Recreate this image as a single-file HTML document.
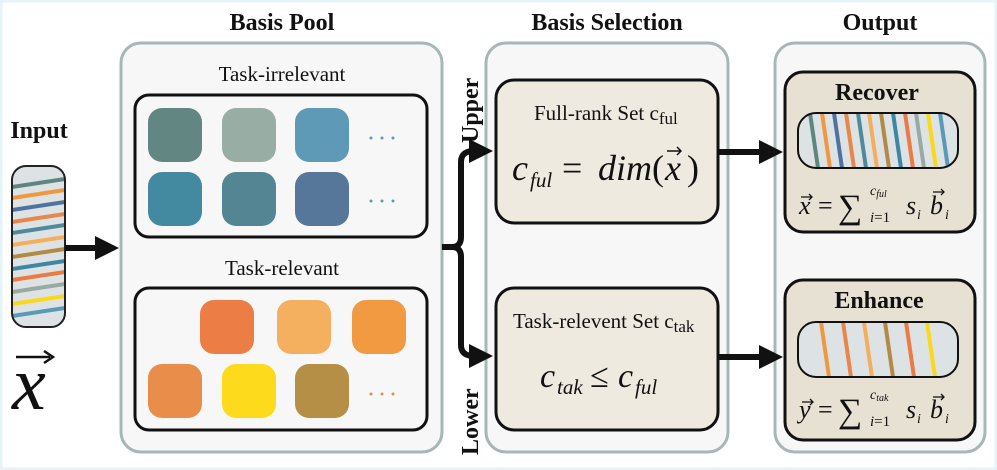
<!DOCTYPE html>
<html><head><meta charset="utf-8"><style>
html,body{margin:0;padding:0;background:#fff}
svg{display:block}
text{font-family:"Liberation Serif",serif;fill:#111}
.h{font-weight:bold;font-size:24px}
.m{font-style:italic}
</style></head><body>
<svg width="997" height="470" viewBox="0 0 997 470" xmlns="http://www.w3.org/2000/svg">
<defs>
<marker id="ah" markerWidth="4" markerHeight="4" refX="1.5" refY="2" orient="auto" markerUnits="strokeWidth">
<path d="M0,0 L4,2 L0,4 z" fill="#111"/></marker>
<clipPath id="c1"><rect x="798" y="113" width="160" height="55" rx="18"/></clipPath>
<clipPath id="c2"><rect x="798" y="322" width="160" height="55" rx="18"/></clipPath>
<clipPath id="c0"><rect x="12" y="166" width="53" height="161" rx="14"/></clipPath>
</defs>
<rect x="1" y="1" width="995" height="468" fill="#fff" stroke="#e6f3f9" stroke-width="3"/>
<text class="h" x="282" y="30" text-anchor="middle">Basis Pool</text>
<text class="h" x="607" y="30" text-anchor="middle">Basis Selection</text>
<text class="h" x="880" y="30" text-anchor="middle">Output</text>
<text class="h" x="39" y="138" text-anchor="middle">Input</text>
<rect x="121" y="43" width="321" height="409" rx="20" fill="#f7f7f7" stroke="#a6b8b6" stroke-width="3"/>
<rect x="486" y="43" width="242" height="409" rx="20" fill="#f7f7f7" stroke="#a6b8b6" stroke-width="3"/>
<rect x="775" y="43" width="210" height="409" rx="20" fill="#f7f7f7" stroke="#a6b8b6" stroke-width="3"/>
<g clip-path="url(#c0)">
<rect x="12" y="166" width="53" height="161" fill="#dde2e4"/>
<g stroke-width="4">
<line x1="12" y1="187" x2="65" y2="179" stroke="#5f8580"/>
<line x1="12" y1="198" x2="65" y2="190" stroke="#f0983e"/>
<line x1="12" y1="210" x2="65" y2="202" stroke="#4e73a0"/>
<line x1="12" y1="222" x2="65" y2="214" stroke="#e8874a"/>
<line x1="12" y1="233" x2="65" y2="225" stroke="#4f8a9a"/>
<line x1="12" y1="245" x2="65" y2="237" stroke="#f4ae5c"/>
<line x1="12" y1="257" x2="65" y2="249" stroke="#b18b43"/>
<line x1="12" y1="269" x2="65" y2="261" stroke="#3f86a3"/>
<line x1="12" y1="280" x2="65" y2="272" stroke="#ec7b43"/>
<line x1="12" y1="292" x2="65" y2="284" stroke="#98aba2"/>
<line x1="12" y1="304" x2="65" y2="296" stroke="#fcd81c"/>
<line x1="12" y1="316" x2="65" y2="308" stroke="#5a9ab9"/>
</g></g>
<rect x="12" y="166" width="53" height="161" rx="14" fill="none" stroke="#222" stroke-width="2"/>
<line x1="65" y1="248" x2="104" y2="248" stroke="#111" stroke-width="6" marker-end="url(#ah)"/>
<line x1="16" y1="357" x2="50" y2="357" stroke="#111" stroke-width="2.5"/>
<path d="M44,351 L53,357 L44,363" fill="none" stroke="#111" stroke-width="2.5"/>
<text x="12" y="409" class="m" font-size="76">x</text>
<text x="282" y="81" text-anchor="middle" font-size="21">Task-irrelevant</text>
<rect x="135" y="95" width="292" height="142" rx="14" fill="none" stroke="#111" stroke-width="3"/>
<rect x="148" y="108" width="54" height="54" rx="14" fill="#628682"/>
<rect x="222" y="108" width="54" height="54" rx="14" fill="#98ada3"/>
<rect x="295" y="108" width="54" height="54" rx="14" fill="#5e9ab5"/>
<rect x="148" y="172" width="54" height="54" rx="14" fill="#438aa1"/>
<rect x="222" y="172" width="54" height="54" rx="14" fill="#538592"/>
<rect x="295" y="172" width="54" height="54" rx="14" fill="#56779a"/>
<g fill="#5e9ab5"><circle cx="371" cy="138" r="1.5"/><circle cx="382" cy="138" r="1.5"/><circle cx="393" cy="138" r="1.5"/>
<circle cx="371" cy="201" r="1.5"/><circle cx="382" cy="201" r="1.5"/><circle cx="393" cy="201" r="1.5"/></g>
<text x="282" y="275" text-anchor="middle" font-size="21">Task-relevant</text>
<rect x="135" y="288" width="292" height="142" rx="14" fill="none" stroke="#111" stroke-width="3"/>
<rect x="200" y="300" width="54" height="54" rx="14" fill="#ec7d45"/>
<rect x="277" y="300" width="54" height="54" rx="14" fill="#f4b05f"/>
<rect x="352" y="300" width="54" height="54" rx="14" fill="#f19a41"/>
<rect x="148" y="364" width="54" height="54" rx="14" fill="#e88e4a"/>
<rect x="222" y="364" width="54" height="54" rx="14" fill="#fddb1c"/>
<rect x="295" y="364" width="54" height="54" rx="14" fill="#b58f45"/>
<g fill="#c49a55"><circle cx="371" cy="394" r="1.5"/><circle cx="382" cy="394" r="1.5"/><circle cx="393" cy="394" r="1.5"/></g>
<path d="M442,247 L452,247 Q461,247 461,237 L461,162 Q461,152 472,151 L478,151" fill="none" stroke="#111" stroke-width="6" marker-end="url(#ah)"/>
<path d="M452,247 Q461,247 461,257 L461,345 Q461,355 472,356 L478,356" fill="none" stroke="#111" stroke-width="6" marker-end="url(#ah)"/>
<text class="h" transform="translate(478,143) rotate(-90)" font-size="24">Upper</text>
<text class="h" transform="translate(478,455) rotate(-90)" font-size="24">Lower</text>
<rect x="496" y="80" width="222" height="143" rx="18" fill="#eeeae0" stroke="#111" stroke-width="3"/>
<text x="534" y="120" font-size="21">Full-rank Set c<tspan font-size="17" dy="4">ful</tspan></text>
<text x="512" y="180" font-size="36" class="m">c</text>
<text x="530" y="187" font-size="21" class="m">ful</text>
<text x="562" y="180" font-size="36">=</text>
<text x="598" y="180" font-size="36" class="m">dim</text>
<text x="652" y="180" font-size="36">(</text>
<text x="665" y="180" font-size="36" class="m">x</text>
<text x="687" y="180" font-size="36">)</text>
<path d="M667,151 L681,151 M677,147 L681,151 L677,155" fill="none" stroke="#111" stroke-width="1.5"/>
<rect x="496" y="288" width="222" height="142" rx="18" fill="#eeeae0" stroke="#111" stroke-width="3"/>
<text x="513" y="328" font-size="21">Task-relevent Set c<tspan font-size="17" dy="4">tak</tspan></text>
<text x="540" y="387" font-size="34" class="m">c</text>
<text x="557" y="394" font-size="21" class="m">tak</text>
<text x="590" y="387" font-size="34">≤</text>
<text x="618" y="387" font-size="34" class="m">c</text>
<text x="635" y="394" font-size="21" class="m">ful</text>
<line x1="718" y1="152" x2="768" y2="152" stroke="#111" stroke-width="6" marker-end="url(#ah)"/>
<line x1="718" y1="357" x2="768" y2="357" stroke="#111" stroke-width="6" marker-end="url(#ah)"/>
<rect x="785" y="72" width="190" height="160" rx="18" fill="#e7e1d4" stroke="#111" stroke-width="3"/>
<text class="h" x="877" y="100" text-anchor="middle" font-size="25">Recover</text>
<g clip-path="url(#c1)"><rect x="798" y="113" width="160" height="55" fill="#dde2e4"/>
<g stroke-width="4">
<line x1="810" y1="113" x2="818" y2="168" stroke="#5f8580"/>
<line x1="822" y1="113" x2="830" y2="168" stroke="#f0983e"/>
<line x1="834" y1="113" x2="842" y2="168" stroke="#4e73a0"/>
<line x1="846" y1="113" x2="854" y2="168" stroke="#e8874a"/>
<line x1="858" y1="113" x2="866" y2="168" stroke="#4f8a9a"/>
<line x1="869" y1="113" x2="877" y2="168" stroke="#f4ae5c"/>
<line x1="881" y1="113" x2="889" y2="168" stroke="#b18b43"/>
<line x1="893" y1="113" x2="901" y2="168" stroke="#3f86a3"/>
<line x1="905" y1="113" x2="913" y2="168" stroke="#ec7b43"/>
<line x1="916" y1="113" x2="924" y2="168" stroke="#98aba2"/>
<line x1="928" y1="113" x2="936" y2="168" stroke="#fcd81c"/>
<line x1="940" y1="113" x2="948" y2="168" stroke="#5a9ab9"/>
</g></g>
<rect x="798" y="113" width="160" height="55" rx="18" fill="none" stroke="#111" stroke-width="2"/>
<g>
<text x="799" y="214" font-size="26" class="m">x</text>
<text x="818" y="214" font-size="26">=</text>
<text x="838" y="218" font-size="34">∑</text>
<text x="870" y="195" font-size="14" class="m">c<tspan font-size="10" dy="2">ful</tspan></text>
<text x="870" y="222" font-size="15" class="m">i<tspan font-style="normal">=1</tspan></text>
<text x="906" y="214" font-size="26" class="m">s</text>
<text x="917" y="219" font-size="14" class="m">i</text>
<text x="930" y="214" font-size="26" class="m">b</text>
<text x="945" y="219" font-size="14" class="m">i</text>
</g>
<rect x="785" y="280" width="190" height="160" rx="18" fill="#e7e1d4" stroke="#111" stroke-width="3"/>
<text class="h" x="879" y="308" text-anchor="middle" font-size="25">Enhance</text>
<g clip-path="url(#c2)"><rect x="798" y="322" width="160" height="55" fill="#dde2e4"/>
<g stroke-width="4">
<line x1="821" y1="322" x2="829" y2="377" stroke="#f0983e"/>
<line x1="843" y1="322" x2="851" y2="377" stroke="#e8874a"/>
<line x1="864" y1="322" x2="872" y2="377" stroke="#f4ae5c"/>
<line x1="885" y1="322" x2="893" y2="377" stroke="#b18b43"/>
<line x1="906" y1="322" x2="914" y2="377" stroke="#ec7b43"/>
<line x1="927" y1="322" x2="935" y2="377" stroke="#fcd81c"/>
</g></g>
<rect x="798" y="322" width="160" height="55" rx="18" fill="none" stroke="#111" stroke-width="2"/>
<g>
<text x="799" y="418" font-size="26" class="m">y</text>
<text x="818" y="418" font-size="26">=</text>
<text x="838" y="422" font-size="34">∑</text>
<text x="870" y="399" font-size="14" class="m">c<tspan font-size="10" dy="2">tak</tspan></text>
<text x="870" y="426" font-size="15" class="m">i<tspan font-style="normal">=1</tspan></text>
<text x="906" y="418" font-size="26" class="m">s</text>
<text x="917" y="423" font-size="14" class="m">i</text>
<text x="930" y="418" font-size="26" class="m">b</text>
<text x="945" y="423" font-size="14" class="m">i</text>
</g>
<g stroke="#111" stroke-width="1.3" fill="none">
<path d="M801,197 L812,197 M809,194 L812,197 L809,200"/>
<path d="M802,402 L813,402 M810,399 L813,402 L810,405"/>
<path d="M933,192 L944,192 M941,189 L944,192 L941,195"/>
<path d="M933,397 L944,397 M941,394 L944,397 L941,400"/>
</g>
</svg>
</body></html>
